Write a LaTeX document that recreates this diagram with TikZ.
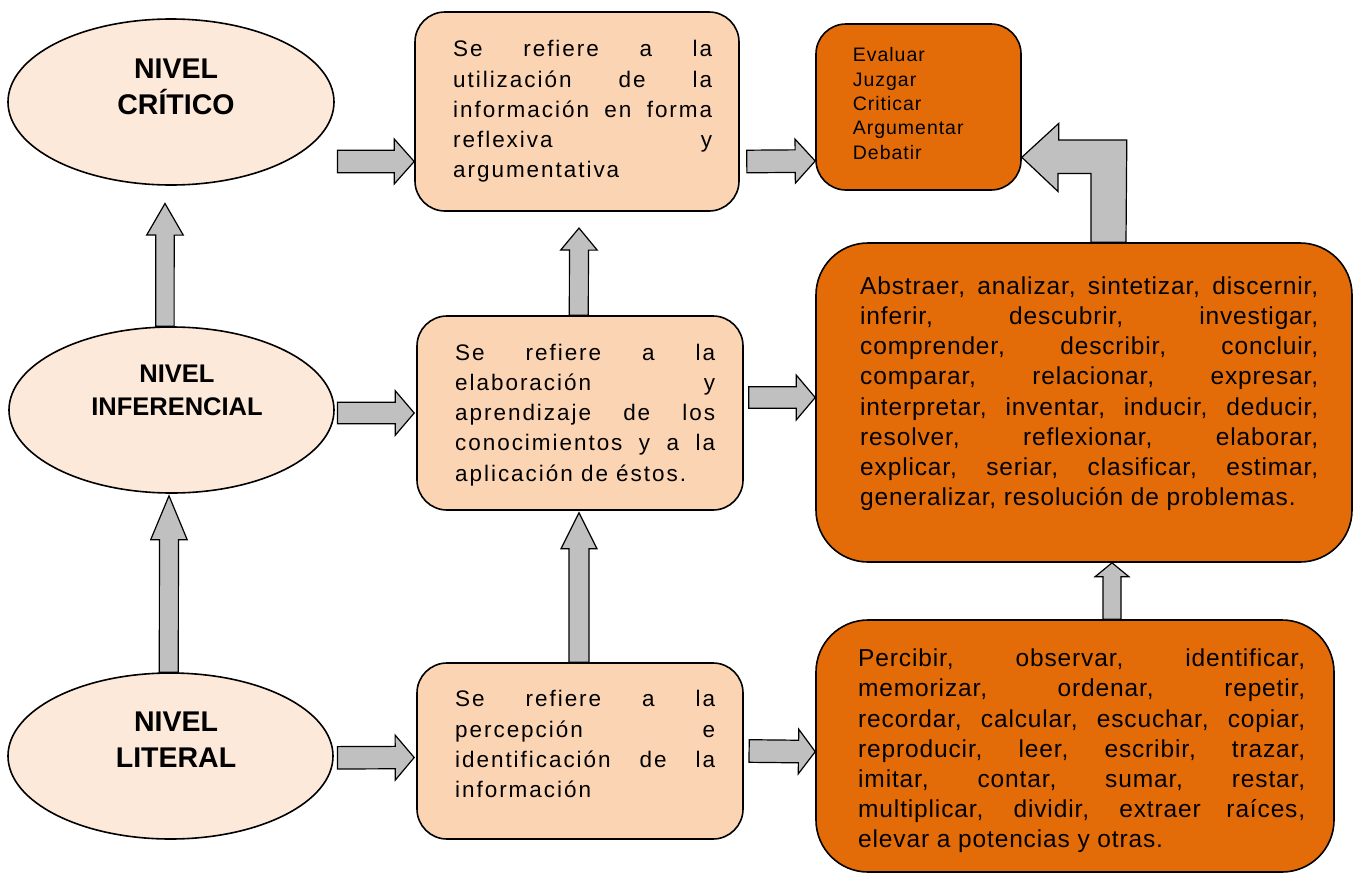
\documentclass[tikz,border=0pt]{standalone}
\usepackage{fontspec}
\setmainfont{Liberation Sans}
\newfontfamily\peachfont[LetterSpace=8.7]{Liberation Sans}
\newfontfamily\actfont[LetterSpace=3.5]{Liberation Sans}
\newfontfamily\evalfont[LetterSpace=5]{Liberation Sans}
\usetikzlibrary{shapes.geometric,calc}

\definecolor{ellfill}{HTML}{FDE9D9}
\definecolor{peach}{HTML}{FBD4B4}
\definecolor{burnt}{HTML}{E36C09}
\definecolor{arrowgray}{HTML}{C0C0C0}

% justified line and closing line of a box text (font's own stretchable spaces)
\newcommand\jl[1]{{\spaceskip=0pt\xspaceskip=0pt\makebox[\hsize][s]{#1}}}
\newcommand\jlast[1]{{\spaceskip=0pt\xspaceskip=0pt\makebox[\hsize][l]{#1}}}

% block arrow: tail, tip, shaft half width, head half width, head length
\newcommand\blockarr[5]{%
  \path (#1) coordinate (ba-a) (#2) coordinate (ba-b);
  \path ($(ba-b)!#5!(ba-a)$) coordinate (ba-c);
  \draw[arrowshape] ($(ba-a)!#3!90:(ba-b)$) -- ($(ba-c)!#3!-90:(ba-a)$)
    -- ($(ba-c)!#4!-90:(ba-a)$) -- (ba-b) -- ($(ba-c)!#4!90:(ba-a)$)
    -- ($(ba-c)!#3!90:(ba-a)$) -- ($(ba-a)!#3!-90:(ba-b)$) -- cycle;}

\tikzset{
  level/.style={ellipse, draw=black, line width=1.6pt, fill=ellfill, inner sep=0pt},
  infobox/.style={rectangle, rounded corners=30pt, draw=black, line width=1.6pt, fill=peach, inner sep=0pt},
  actbox/.style={rectangle, draw=black, line width=1.6pt, fill=burnt, inner sep=0pt},
  arrowshape/.style={draw=black, line width=1.2pt, fill=arrowgray, line join=miter},
  titletext/.style={anchor=base, inner sep=0pt, text width=260pt, align=center,
    font=\bfseries\fontsize{28.5}{36}\selectfont},
  peachtext/.style={anchor=base west, inner sep=0pt, text width=260pt, align=left,
    font=\peachfont\fontsize{22.5}{30.3}\selectfont},
  acttext/.style={anchor=base west, inner sep=0pt, align=left,
    font=\actfont\fontsize{24.5}{30.2}\selectfont},
  evaltext/.style={anchor=base west, inner sep=0pt, text width=150pt, align=left,
    font=\evalfont\fontsize{19.5}{24.4}\selectfont}
}

\begin{document}
\begin{tikzpicture}[x=1pt,y=-1pt]
\useasboundingbox (0,0) rectangle (1363,873);

% levels
\node[level, minimum width=326pt, minimum height=166pt] (crit) at (171,102) {};
\node[level, minimum width=325pt, minimum height=166pt] (infe) at (171.5,410) {};
\node[level, minimum width=325pt, minimum height=166pt] (lite) at (170.5,756) {};
\node[titletext] (critT) at (176,78.3) {NIVEL\\CRÍTICO};
\node[titletext, font=\bfseries\fontsize{25.5}{32.3}\selectfont] (infeT) at (177,382.7) {NIVEL\\INFERENCIAL};
\node[titletext] (liteT) at (176,731.7) {NIVEL\\LITERAL};

% descriptions
\node[infobox, minimum width=324pt, minimum height=199pt] (peachA) at (577,111.5) {};
\node[infobox, minimum width=326pt, minimum height=194pt] (peachB) at (580,413) {};
\node[infobox, minimum width=326pt, minimum height=176pt] (peachC) at (580,751) {};
\node[peachtext, text width=259pt] (peachAT) at (453,56.7) {%
  \jl{Se refiere a la}\\\jl{utilización de la}\\\jl{información en forma}\\%
  \jl{reflexiva y}\\\jlast{argumentativa}};
\node[peachtext] (peachBT) at (455,360) {%
  \jl{Se refiere a la}\\\jl{elaboración y}\\\jl{aprendizaje de los}\\%
  \jl{conocimientos y a la}\\\jlast{aplicación de éstos.}};
\node[peachtext] (peachCT) at (455,706.7) {%
  \jl{Se refiere a la}\\\jl{percepción e}\\\jl{identificación de la}\\\jlast{información}};

% skills
\node[actbox, rounded corners=30pt, minimum width=205pt, minimum height=166pt] (eval) at (918.5,107) {};
\node[actbox, rounded corners=52pt, minimum width=536pt, minimum height=319pt] (abst) at (1084,402.5) {};
\node[actbox, rounded corners=52pt, minimum width=518pt, minimum height=252pt] (acts) at (1075,746) {};
\node[evaltext] (evalT) at (852.7,61.7) {Evaluar\\Juzgar\\Criticar\\Argumentar\\Debatir};
\node[acttext, text width=458pt] (abstT) at (860,294.3) {%
  \jl{Abstraer, analizar, sintetizar, discernir,}\\
  \jl{inferir, descubrir, investigar,}\\
  \jl{comprender, describir, concluir,}\\
  \jl{comparar, relacionar, expresar,}\\
  \jl{interpretar, inventar, inducir, deducir,}\\
  \jl{resolver, reflexionar, elaborar,}\\
  \jl{explicar, seriar, clasificar, estimar,}\\
  \jlast{generalizar, resolución de problemas.}};
\node[acttext, text width=447pt] (actsT) at (858,666.7) {%
  \jl{Percibir, observar, identificar,}\\
  \jl{memorizar, ordenar, repetir,}\\
  \jl{recordar, calcular, escuchar, copiar,}\\
  \jl{reproducir, leer, escribir, trazar,}\\
  \jl{imitar, contar, sumar, restar,}\\
  \jl{multiplicar, dividir, extraer raíces,}\\
  \jlast{elevar a potencias y otras.}};

% horizontal arrows
\blockarr{[xshift=2.7pt,yshift=-59.5pt]crit.east}{[yshift=-50pt]peachA.west}{11.3pt}{22.5pt}{20pt}
\blockarr{[xshift=2.7pt,yshift=-3pt]infe.east}{[xshift=-2pt]peachB.west}{10.8pt}{22.3pt}{19pt}
\blockarr{[xshift=3.7pt,yshift=-1.8pt]lite.east}{[xshift=-2pt,yshift=-6.5pt]peachC.west}{11.2pt}{22.5pt}{19pt}
\blockarr{[xshift=7pt,yshift=-50pt]peachA.east}{[yshift=-54pt]eval.west}{11.3pt}{22pt}{20pt}
\blockarr{[xshift=5pt,yshift=15.5pt]peachB.east}{[yshift=5pt]abst.west}{10.8pt}{22.5pt}{19pt}
\blockarr{[xshift=5.3pt]peachC.east}{[yshift=-5.7pt]acts.west}{11.3pt}{22.3pt}{16.7pt}

% vertical arrows
\blockarr{[xshift=-1.7pt]lite.north}{[xshift=-2.5pt,yshift=-2pt]infe.south}{9.5pt}{18.3pt}{44pt}
\blockarr{[xshift=-6.6pt]infe.north}{[xshift=-6pt,yshift=-17.7pt]crit.south}{9.2pt}{18.3pt}{31.6pt}
\blockarr{[xshift=-1.2pt]peachB.north}{[xshift=2pt,yshift=-16.3pt]peachA.south}{9.5pt}{18.3pt}{22pt}
\blockarr{[xshift=-1pt]peachC.north}{[xshift=-1pt,yshift=-2pt]peachB.south}{10pt}{18pt}{36pt}
\blockarr{[xshift=37pt]acts.north}{[xshift=28pt]abst.south}{9pt}{17pt}{14pt}

% bent arrow up and into the evaluation box
\coordinate (bendTip) at ([yshift=-50.3pt]eval.east);
\coordinate (bendFoot) at ([xshift=7pt]abst.north);
\draw[arrowshape] (bendFoot) -- ++(0,-68.7) -- ++(-33,0) -- ++(0,18) -- (bendTip)
  -- ++(37,-34) -- ++(0,16.7) -- ++(68,0) -- (bendFoot -| {1126,0}) -- cycle;
\end{tikzpicture}
\end{document}
